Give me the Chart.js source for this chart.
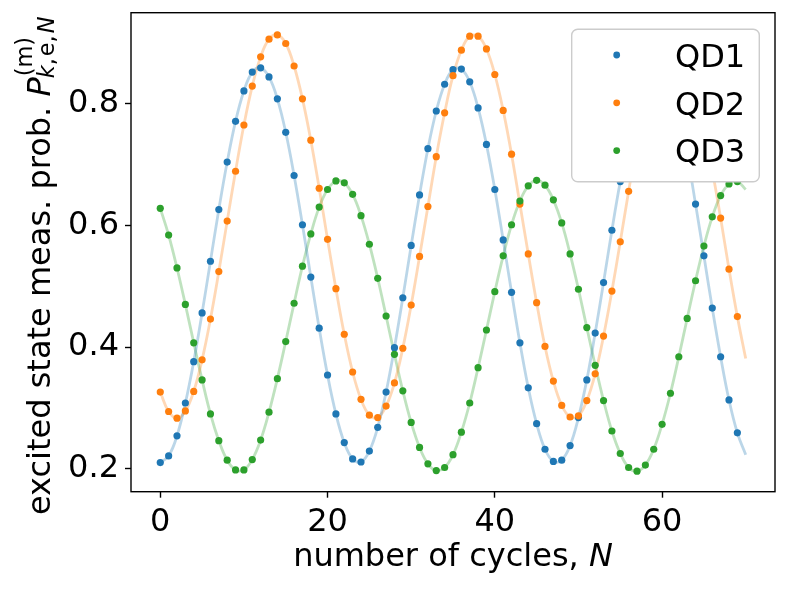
<!DOCTYPE html>
<html>
<head>
<meta charset="utf-8">
<title>excited state meas. prob. vs number of cycles</title>
<script src="https://cdn.jsdelivr.net/npm/chart.js@4.4.0/dist/chart.umd.min.js"></script>
<style>
  html, body { margin: 0; padding: 0; background: #fff; }
  #wrap { width: 789px; height: 590px; }
</style>
</head>
<body>
<div id="wrap"><canvas id="c" width="789" height="590"></canvas></div>
<script>
// --- data ---
const cycles = [0,1,2,3,4,5,6,7,8,9,10,11,12,13,14,15,16,17,18,19,
  20,21,22,23,24,25,26,27,28,29,30,31,32,33,34,35,36,37,38,39,
  40,41,42,43,44,45,46,47,48,49,50,51,52,53,54,55,56,57,58,59,
  60,61,62,63,64,65,66,67,68,69];

const qd1 = [0.210,0.221,0.254,0.308,0.376,0.456,0.541,0.626,0.704,0.771,
  0.821,0.852,0.859,0.844,0.808,0.753,0.682,0.601,0.515,0.431,
  0.354,0.290,0.243,0.216,0.211,0.229,0.268,0.326,0.399,0.481,
  0.567,0.650,0.726,0.788,0.832,0.856,0.857,0.836,0.793,0.733,
  0.659,0.576,0.490,0.407,0.333,0.274,0.232,0.212,0.214,0.238,
  0.284,0.346,0.423,0.506,0.592,0.672,0.740,0.797,0.838,0.857,
  0.853,0.827,0.779,0.716,0.635,0.550,0.464,0.384,0.313,0.259];

const qd2 = [0.326,0.294,0.283,0.295,0.327,0.379,0.446,0.524,0.607,0.689,
  0.765,0.829,0.877,0.906,0.913,0.899,0.862,0.808,0.740,0.661,
  0.577,0.496,0.421,0.359,0.314,0.288,0.284,0.303,0.341,0.398,
  0.469,0.549,0.631,0.713,0.785,0.846,0.888,0.911,0.911,0.890,
  0.848,0.789,0.717,0.635,0.553,0.473,0.401,0.344,0.304,0.285,
  0.287,0.312,0.356,0.418,0.492,0.573,0.656,0.736,0.805,0.862,
  0.898,0.913,0.906,0.878,0.830,0.766,0.691,0.612,0.528,0.450];

const qd3 = [0.628,0.584,0.530,0.470,0.407,0.346,0.290,0.246,0.214,0.198,
  0.198,0.215,0.247,0.293,0.348,0.409,0.472,0.533,0.586,0.630,
  0.659,0.673,0.670,0.651,0.616,0.569,0.513,0.451,0.388,0.328,
  0.276,0.235,0.208,0.197,0.202,0.223,0.260,0.308,0.366,0.428,
  0.491,0.550,0.601,0.640,0.665,0.674,0.666,0.642,0.604,0.553,
  0.495,0.432,0.370,0.312,0.262,0.225,0.202,0.196,0.206,0.232,
  0.273,0.324,0.384,0.447,0.509,0.566,0.614,0.649,0.668,0.672];

// fitted curves run one cycle further than the points
const fitEndN = 70;
const fitEnd = [0.223, 0.381, 0.659];

const names = ['QD1', 'QD2', 'QD3'];
const xTicks = [0, 20, 40, 60];
const yTicks = [0.2, 0.4, 0.6, 0.8];

const colors = ['#1f77b4', '#ff7f0e', '#2ca02c'];
const faded = ['rgba(31,119,180,0.3)', 'rgba(255,127,14,0.3)', 'rgba(44,160,44,0.3)'];
const FAM = '"DejaVu Sans", sans-serif';
const FS = 32;

const series = [qd1, qd2, qd3];

// points on top (QD3 topmost, like matplotlib draw order), fits underneath
const pointSets = series.map((s, i) => ({
  label: names[i],
  data: cycles.map((n, j) => ({x: n, y: s[j]})),
  showLine: false,
  pointRadius: 3.6,
  pointHoverRadius: 3.6,
  pointBackgroundColor: colors[i],
  pointBorderWidth: 0,
  order: 2 - i
}));

const fitSets = series.map((s, i) => ({
  label: names[i] + ' fit',
  data: cycles.map((n, j) => ({x: n, y: s[j]})).concat([{x: fitEndN, y: fitEnd[i]}]),
  showLine: true,
  pointRadius: 0,
  borderColor: faded[i],
  borderWidth: 2.8,
  tension: 0.4,
  fill: false,
  order: 3 + i
}));

// text runs with mixed italic / sub / superscript
function drawRuns(ctx, runs, x, y) {
  let cx = x;
  runs.forEach(r => {
    ctx.font = (r.italic ? 'italic ' : '') + r.size + 'px ' + FAM;
    ctx.fillText(r.t, cx, y + (r.dy || 0));
    cx += ctx.measureText(r.t).width + (r.gap || 0);
  });
  return cx;
}

const decor = {
  id: 'decor',
  afterDatasetsDraw(chart) {
    const {ctx, chartArea: a} = chart;
    ctx.save();
    ctx.strokeStyle = '#000';
    ctx.lineWidth = 1.4;
    ctx.strokeRect(a.left, a.top, a.right - a.left, a.bottom - a.top);
    ctx.restore();
  },
  afterDraw(chart) {
    const {ctx, chartArea: a} = chart;
    ctx.save();
    ctx.fillStyle = '#000';
    ctx.textBaseline = 'alphabetic';
    ctx.textAlign = 'left';

    // x axis title
    ctx.font = FS + 'px ' + FAM;
    const w1 = ctx.measureText('number of cycles, ').width;
    ctx.font = 'italic ' + FS + 'px ' + FAM;
    const w2 = ctx.measureText('N').width;
    const cx = (a.left + a.right) / 2;
    drawRuns(ctx, [{t: 'number of cycles, ', size: FS}, {t: 'N', size: FS, italic: true}],
      cx - (w1 + w2) / 2, 566);

    // y axis title, rotated
    ctx.save();
    ctx.translate(50, 515);
    ctx.rotate(-Math.PI / 2);
    let px = drawRuns(ctx, [{t: 'excited state meas. prob. ', size: FS},
                            {t: 'P', size: FS, italic: true}], 0, 0);
    const sm = FS * 0.7;
    drawRuns(ctx, [{t: '(m)', size: sm, dy: -18}], px + 1, 0);
    drawRuns(ctx, [{t: 'k', size: sm, italic: true, dy: 4},
                   {t: ',', size: sm, dy: 4, gap: 2},
                   {t: 'e', size: sm, dy: 4},
                   {t: ',', size: sm, dy: 4, gap: 2},
                   {t: 'N', size: sm, italic: true, dy: 4}], px - 1, 0);
    ctx.restore();

    // legend box (opaque, hides what is behind it)
    const lx = 571.7, ly = 29.3, lw = 187.6, lh = 152.4, r = 6;
    ctx.beginPath();
    ctx.moveTo(lx + r, ly);
    ctx.arcTo(lx + lw, ly, lx + lw, ly + lh, r);
    ctx.arcTo(lx + lw, ly + lh, lx, ly + lh, r);
    ctx.arcTo(lx, ly + lh, lx, ly, r);
    ctx.arcTo(lx, ly, lx + lw, ly, r);
    ctx.closePath();
    ctx.fillStyle = '#ffffff';
    ctx.fill();
    ctx.strokeStyle = '#cccccc';
    ctx.lineWidth = 1.4;
    ctx.stroke();

    names.forEach((n, i) => {
      const ry = ly + 25.7 + i * 47.8;
      ctx.beginPath();
      ctx.arc(616.7, ry, 3.4, 0, Math.PI * 2);
      ctx.fillStyle = colors[i];
      ctx.fill();
      ctx.fillStyle = '#000';
      ctx.font = FS + 'px ' + FAM;
      ctx.fillText(n, 675, ry + 11.7);
    });
    ctx.restore();
  }
};

const tickFont = {family: FAM, size: FS};

new Chart(document.getElementById('c'), {
  type: 'scatter',
  data: {datasets: pointSets.concat(fitSets)},
  plugins: [decor],
  options: {
    responsive: false,
    animation: false,
    events: [],
    layout: {padding: {top: 12.7, right: 14, bottom: 0, left: 0}},
    plugins: {legend: {display: false}, tooltip: {enabled: false}},
    scales: {
      x: {
        type: 'linear',
        min: -3.5,
        max: 73.5,
        afterBuildTicks: s => { s.ticks = xTicks.map(v => ({value: v})); },
        afterFit: s => { s.height = 98.3; s.paddingLeft = 0; s.paddingRight = 0; },
        ticks: {font: tickFont, color: '#000', padding: 6, maxRotation: 0, autoSkip: false,
                callback: v => String(v)},
        grid: {drawOnChartArea: false, tickLength: 6, tickWidth: 1.4, tickColor: '#000'},
        border: {display: false}
      },
      y: {
        type: 'linear',
        min: 0.1622,
        max: 0.9496,
        afterBuildTicks: s => { s.ticks = yTicks.map(v => ({value: v})); },
        afterFit: s => { s.width = 131; s.paddingTop = 0; s.paddingBottom = 0; },
        ticks: {font: tickFont, color: '#000', padding: 6, autoSkip: false,
                callback: v => v.toFixed(1)},
        grid: {drawOnChartArea: false, tickLength: 6, tickWidth: 1.4, tickColor: '#000'},
        border: {display: false}
      }
    }
  }
});
</script>
</body>
</html>
